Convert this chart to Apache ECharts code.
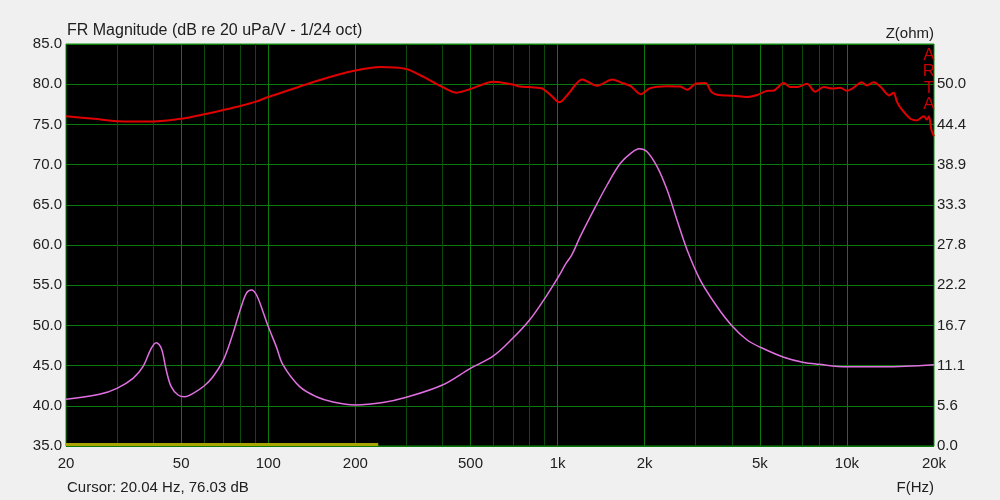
<!DOCTYPE html>
<html>
<head>
<meta charset="utf-8">
<script src="https://cdn.jsdelivr.net/npm/echarts@6/dist/echarts.min.js"></script>
<style>
html,body{margin:0;padding:0;background:#f0f0f0;}
#chart{width:1000px;height:500px;}
</style>
</head>
<body>
<div id="chart"></div>
<script>
// Frequency response (red, dB, left axis)
const splFreq = [20,25,30,40,50,60,70,80,90,100,150,200,244,300,344,400,448,500,600,700,740,800,880,900,950,1014,1092,1216,1370,1420,1544,1660,1790,1940,2085,2390,2657,2804,3000,3243,3400,3560,4060,4520,4892,5340,5560,6050,6380,6740,7280,7770,8310,8880,9480,10000,10530,11250,11700,12380,13100,14000,14500,14900,15400,16570,17400,18450,18900,19200,19600,20000];
const splDb   = [76.0,75.7,75.4,75.35,75.7,76.25,76.8,77.3,77.8,78.4,80.5,81.7,82.15,81.9,80.9,79.65,78.95,79.4,80.3,79.95,79.7,79.65,79.5,79.3,78.6,77.75,78.85,80.6,79.8,80.0,80.6,80.2,79.75,78.75,79.5,79.75,79.7,79.3,80.05,80.15,79.05,78.7,78.55,78.4,78.65,79.2,79.2,80.15,79.65,79.65,80.05,79.05,79.65,79.45,79.55,79.2,79.55,80.25,79.85,80.25,79.65,78.6,78.95,77.8,76.95,75.7,75.5,76.0,75.6,76.0,74.3,73.5];
// Impedance (pink, ohm, right axis)
const zFreq = [20,26.1,30,34.1,36.9,39.4,41.0,42.7,44.4,46.2,48.8,51.4,55,60,64.4,70,75.6,80,84,87.4,91,95.9,100,106.7,112.5,128.4,146.7,167.5,200,249,300,400,500,600,700,800,900,1000,1072,1120,1196,1333,1483,1648,1790,1917,2038,2208,2390,2588,2804,3116,3560,4010,4520,5024,6050,7034,7990,10000,13400,20000];
const zOhm  = [6.45,7.14,7.97,9.35,10.96,13.5,14.28,13.5,10.5,8.2,7.05,6.81,7.28,8.29,9.58,11.9,15.6,18.8,21.1,21.56,20.9,18.56,16.5,13.7,11.2,8.2,6.81,6.08,5.67,6.0,6.73,8.43,10.74,12.44,14.88,17.4,20.3,23.2,25.3,26.4,28.9,32.6,36.07,39.07,40.45,41.09,40.67,38.6,35.4,31.2,27.1,22.9,19.25,16.6,14.65,13.64,12.26,11.57,11.29,10.96,10.96,11.24];
// Yellow range marker at the bottom
const markerFreq = [20,240];
const markerDb = [35.2,35.2];
// Axis ticks
const xLabelTicks = [20,50,100,200,500,1000,2000,5000,10000,20000];
const xMajorGrid = [50,100,200,500,1000,2000,5000,10000];
const xMinorGrid = [30,40,60,70,80,90,300,400,600,700,800,900,3000,4000,6000,7000,8000,9000];
const dbMin = 35, dbMax = 85, dbStep = 5;
const ohmMax = 500/9, ohmStep = 50/9;

const zip = (a,b) => a.map((v,i)=>[v,b[i]]);
const FONT = 'Liberation Sans';
const DARK = '#0a4a0a', BRIGHT = '#0a7a0a';
const gridLines = xMinorGrid.map(v=>({xAxis:v,lineStyle:{color:DARK,width:1,type:'solid'}}))
  .concat(xMajorGrid.map(v=>({xAxis:v,lineStyle:{color:BRIGHT,width:1,type:'solid'}})));

const chart = echarts.init(document.getElementById('chart'), null, {renderer:'canvas'});
chart.setOption({
  backgroundColor:'#f0f0f0',
  animation:false,
  textStyle:{fontFamily:FONT},
  grid:{left:66,right:66,top:44,bottom:54,show:true,backgroundColor:'#000',borderColor:'#0c8c0c',borderWidth:1,containLabel:false},
  xAxis:[
    {type:'log',logBase:10,min:20,max:20000,
     axisLine:{show:false},
     axisTick:{show:false},
     axisLabel:{show:true,customValues:xLabelTicks,color:'#202020',fontSize:15,fontFamily:FONT,margin:10,
       formatter:v=> v>=1000 ? (v/1000)+'k' : String(v)},
     splitLine:{show:false}}
  ],
  yAxis:[
    {type:'value',min:dbMin,max:dbMax,interval:dbStep,
     axisLine:{show:false},axisTick:{show:false},
     axisLabel:{color:'#202020',fontSize:15,fontFamily:FONT,margin:4,formatter:v=>v.toFixed(1)},
     splitLine:{show:true,lineStyle:{color:'#0a780a',width:1}}},
    {type:'value',min:0,max:ohmMax,interval:ohmStep,position:'right',
     axisLine:{show:false},axisTick:{show:false},
     axisLabel:{color:'#202020',fontSize:15,fontFamily:FONT,margin:3,
       formatter:v=> v>ohmMax-0.01 ? '' : (Math.round(v*10)/10).toFixed(1)},
     splitLine:{show:false}}
  ],
  series:[
    {type:'line',name:'marker',xAxisIndex:0,yAxisIndex:0,data:zip(markerFreq,markerDb),
     symbol:'none',lineStyle:{color:'#a8a400',width:3},silent:true,z:3,
     markLine:{silent:true,symbol:['none','none'],label:{show:false},animation:false,z:1,data:gridLines}},
    {type:'line',name:'Impedance',xAxisIndex:0,yAxisIndex:1,data:zip(zFreq,zOhm),
     symbol:'none',smooth:0.35,lineStyle:{color:'#e070e0',width:1.5},z:4},
    {type:'line',name:'SPL',xAxisIndex:0,yAxisIndex:0,data:zip(splFreq,splDb),
     symbol:'none',smooth:0.3,lineStyle:{color:'#e00000',width:2},z:5}
  ],
  graphic:[
    {type:'text',left:67,top:23,style:{text:'FR Magnitude (dB re 20 uPa/V - 1/24 oct)',font:'16px '+FONT,fill:'#202020'}},
    {type:'text',right:66,top:26,style:{text:'Z(ohm)',font:'15px '+FONT,fill:'#202020'}},
    {type:'text',left:67,top:480,style:{text:'Cursor: 20.04 Hz, 76.03 dB',font:'15px '+FONT,fill:'#202020'}},
    {type:'text',right:66,top:480,style:{text:'F(Hz)',font:'15px '+FONT,fill:'#202020'}},
    {type:'text',x:929,y:47,style:{text:'A\nR\nT\nA',font:'17px '+FONT,fill:'#c80000',align:'center',verticalAlign:'top',lineHeight:16.5},z:10}
  ]
});
</script>
</body>
</html>
